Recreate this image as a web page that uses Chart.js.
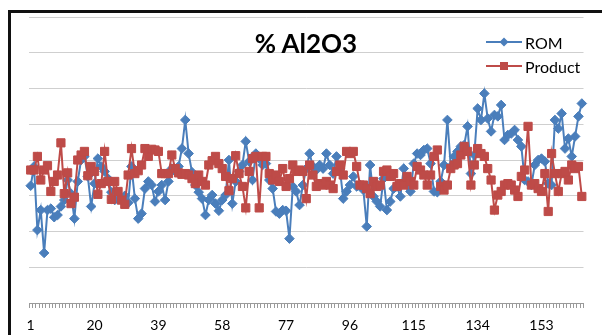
<!DOCTYPE html>
<html>
<head>
<meta charset="utf-8">
<script src="https://cdn.jsdelivr.net/npm/chart.js@4.4.1/dist/chart.umd.min.js"></script>
<style>
  html, body { margin: 0; padding: 0; background: #fff; }
  #wrap { position: relative; width: 602px; height: 335px; overflow: hidden; background: #fff; }
  #chart { position: absolute; left: 0; top: 0; }
  #frame { position: absolute; left: 8px; top: 10px; width: 700px; height: 400px;
           border-left: 3px solid #111; border-top: 3px solid #111; pointer-events: none; }
  #title { position: absolute; left: 0; width: 612px; top: 27px; text-align: center;
           font: bold 26px Lato, "Open Sans", sans-serif; color: #000; }
  .leg { position: absolute; left: 486px; height: 20px; display: flex; align-items: center;
         font: 16px Lato, "Open Sans", sans-serif; color: #000; }
  .leg svg { margin-right: 3px; }
</style>
</head>
<body>
<div id="wrap">
  <canvas id="chart" width="602" height="335"></canvas>
  <div id="title">% Al2O3</div>
  <div class="leg" style="top:32px">
    <svg width="36" height="12"><line x1="0" y1="6" x2="36" y2="6" stroke="#4A7EBB" stroke-width="2"/><path d="M18 1.5 L22.5 6 L18 10.5 L13.5 6 Z" fill="#4A7EBB"/></svg><span>ROM</span>
  </div>
  <div class="leg" style="top:56px">
    <svg width="36" height="12"><line x1="0" y1="6" x2="36" y2="6" stroke="#BE4B48" stroke-width="2"/><rect x="14" y="2" width="8" height="8" fill="#BE4B48"/></svg><span>Product</span>
  </div>
  <div id="frame"></div>
</div>
<script>
// Sample numbers along the horizontal axis
const sampleNo = Array.from({ length: 165 }, (_, i) => i + 1);

// Sample numbers that carry a printed label
const tickLabels = [1, 20, 39, 58, 77, 96, 115, 134, 153];

// % Al2O3 in run-of-mine ore
const romAl2O3 = [
  1.64, 1.91, 1.02, 1.30, 0.70, 1.30, 1.32, 1.20, 1.23, 1.35, 1.44, 1.72, 1.53, 1.18, 1.70,
  2.00, 2.05, 1.77, 1.35, 1.67, 2.02, 1.91, 1.84, 1.74, 1.55, 1.44, 1.45, 1.45, 1.50, 1.40,
  1.91, 1.46, 1.18, 1.25, 1.60, 1.70, 1.65, 1.42, 1.56, 1.65, 1.44, 1.70, 1.88, 1.84, 1.91,
  2.16, 2.56, 2.09, 1.83, 1.65, 1.55, 1.46, 1.23, 1.44, 1.51, 1.39, 1.29, 1.44, 1.51, 2.00,
  1.39, 1.70, 1.84, 1.93, 2.26, 1.98, 1.72, 2.09, 2.02, 1.93, 1.95, 1.72, 1.60, 1.28, 1.25,
  1.30, 1.29, 0.90, 1.63, 1.56, 1.37, 1.65, 1.88, 2.09, 1.91, 1.86, 1.93, 1.88, 2.09, 1.93,
  1.81, 2.05, 1.88, 1.46, 1.56, 1.65, 1.77, 1.63, 1.65, 1.58, 1.07, 1.93, 1.49, 1.42, 1.35,
  1.74, 1.30, 1.42, 1.60, 1.63, 1.49, 1.88, 1.65, 1.56, 1.95, 2.09, 2.07, 2.14, 2.16, 1.95,
  1.56, 1.55, 1.70, 1.93, 2.56, 1.91, 2.05, 2.12, 2.19, 2.21, 2.47, 1.81, 2.07, 2.72, 2.56,
  2.93, 2.58, 2.40, 2.63, 2.61, 2.77, 2.28, 2.35, 2.37, 2.42, 2.28, 2.19, 1.72, 1.70, 1.65,
  1.93, 2.00, 2.02, 1.98, 1.67, 1.65, 2.56, 2.44, 2.65, 2.16, 2.30, 2.05, 2.33, 2.61, 2.79
];

// % Al2O3 in the product
const productAl2O3 = [
  1.86, 1.86, 2.05, 1.72, 1.86, 1.92, 1.56, 1.70, 1.79, 2.24, 1.53, 1.82, 1.39, 1.48, 2.00,
  2.07, 2.12, 1.78, 1.91, 1.84, 1.52, 1.67, 2.12, 1.70, 1.45, 1.70, 1.56, 1.44, 1.38, 1.79,
  2.16, 1.81, 1.85, 1.93, 2.16, 2.05, 2.15, 2.14, 2.12, 1.81, 1.81, 1.81, 2.07, 1.88, 1.82,
  1.80, 1.81, 1.79, 1.74, 1.67, 1.79, 1.70, 1.65, 1.93, 1.99, 2.05, 1.95, 1.88, 1.77, 1.57,
  1.74, 2.06, 1.81, 1.63, 1.33, 1.84, 2.02, 2.05, 1.33, 2.05, 2.05, 1.81, 1.72, 1.79, 1.70,
  1.88, 1.63, 1.74, 1.93, 1.84, 1.86, 1.84, 1.46, 1.93, 1.79, 1.63, 1.67, 1.65, 1.70, 1.65,
  1.60, 1.84, 1.93, 1.79, 2.12, 2.09, 2.12, 1.91, 1.65, 1.65, 1.60, 1.53, 1.70, 1.63, 1.65,
  1.84, 1.86, 1.77, 1.81, 1.63, 1.67, 1.65, 1.77, 1.70, 1.65, 1.91, 1.86, 1.79, 1.65, 1.79,
  2.05, 2.14, 1.63, 1.58, 1.65, 1.88, 1.93, 1.95, 2.07, 2.19, 2.12, 1.65, 1.93, 2.16, 2.09,
  2.05, 1.88, 1.72, 1.30, 1.51, 1.56, 1.65, 1.67, 1.65, 1.58, 1.49, 1.77, 1.86, 2.47, 1.65,
  1.67, 1.60, 1.56, 1.81, 1.28, 2.09, 1.81, 1.56, 1.81, 1.84, 1.72, 1.93, 1.88, 1.91, 1.49
];

const ROM_COLOR = '#4A7EBB';
const PRODUCT_COLOR = '#BE4B48';

new Chart(document.getElementById('chart').getContext('2d'), {
  type: 'line',
  data: {
    labels: sampleNo,
    datasets: [
      {
        label: 'ROM',
        data: romAl2O3,
        borderColor: ROM_COLOR,
        backgroundColor: ROM_COLOR,
        borderWidth: 2,
        pointStyle: 'rectRot',
        pointRadius: 4.8,
        pointBorderWidth: 1,
        tension: 0,
        order: 1
      },
      {
        label: 'Product',
        data: productAl2O3,
        borderColor: PRODUCT_COLOR,
        backgroundColor: PRODUCT_COLOR,
        borderWidth: 2,
        pointStyle: 'rect',
        pointRadius: 5.8,
        pointBorderWidth: 1,
        tension: 0,
        order: 0
      }
    ]
  },
  options: {
    responsive: false,
    animation: false,
    events: [],
    layout: { padding: { left: 29, right: 18.5, top: 17, bottom: 0 } },
    plugins: {
      legend: { display: false },
      title: { display: false },
      tooltip: { enabled: false }
    },
    scales: {
      x: {
        type: 'category',
        offset: true,
        afterFit: (scale) => { scale.height = 32; },
        grid: {
          display: true,
          drawOnChartArea: false,
          drawTicks: true,
          tickLength: 5,
          color: '#9a9a9a',
          offset: true
        },
        border: { display: true, color: '#9a9a9a', width: 1 },
        ticks: {
          autoSkip: false,
          maxRotation: 0,
          minRotation: 0,
          padding: 9,
          color: '#000',
          font: { family: 'Lato', size: 14 },
          callback: (value, index) => tickLabels.includes(sampleNo[index]) ? String(sampleNo[index]) : ''
        }
      },
      y: {
        min: 0,
        max: 4,
        ticks: { stepSize: 0.5, display: false },
        grid: { color: '#cfcfcf', drawTicks: false, lineWidth: 1 },
        border: { display: false }
      }
    }
  }
});
</script>
</body>
</html>
